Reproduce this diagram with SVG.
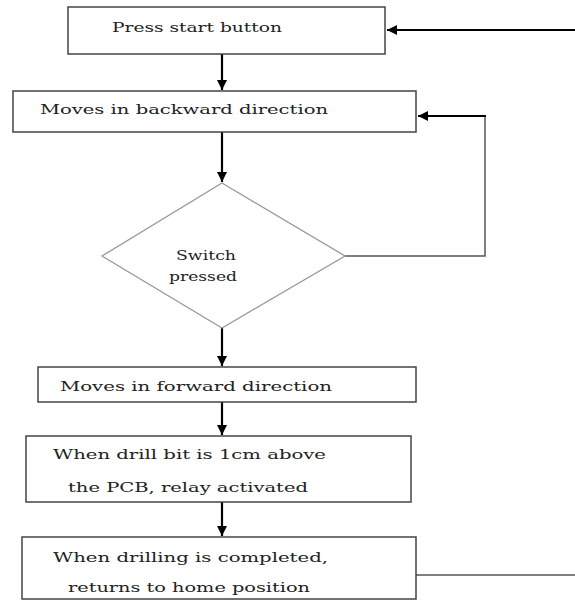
<svg xmlns="http://www.w3.org/2000/svg" width="575" height="600" viewBox="0 0 575 600">
<defs>
<style>
.box{fill:#fff;stroke:#444;stroke-width:1.5}
.dia{fill:#fff;stroke:#999;stroke-width:1.3}
.t{font-family:"DejaVu Serif","Liberation Serif",serif;font-size:13px;fill:#222}
.c{fill:none;stroke:#000;stroke-width:2.2}
.g{fill:none;stroke:#555;stroke-width:1.5}
</style>
<marker id="ah" viewBox="0 0 10 10" refX="10" refY="5" markerWidth="10" markerHeight="10" markerUnits="userSpaceOnUse" orient="auto">
<path d="M0,0 L10,5 L0,10 z" fill="#000"/>
</marker>
</defs>
<rect width="575" height="600" fill="#fff"/>
<g id="connectors">
<line class="c" x1="575" y1="30" x2="387" y2="30" stroke-width="3" marker-end="url(#ah)"/>
<line class="c" x1="222" y1="54" x2="222" y2="90" marker-end="url(#ah)"/>
<line class="c" x1="222" y1="132" x2="222" y2="182" stroke-width="3" marker-end="url(#ah)"/>
<polyline class="g" points="345,256 485,256 485,116 430,116"/>
<line class="c" x1="486" y1="116" x2="418" y2="116" stroke-width="2.5" marker-end="url(#ah)"/>
<line class="c" x1="222" y1="328" x2="222" y2="366" marker-end="url(#ah)"/>
<line class="c" x1="222" y1="402" x2="222" y2="435" marker-end="url(#ah)"/>
<line class="c" x1="222" y1="502" x2="222" y2="536" marker-end="url(#ah)"/>
<line class="g" x1="416" y1="575" x2="575" y2="575"/>
</g>
<g id="n1">
<rect class="box" x="68" y="7" width="317" height="47"/>
<text class="t" x="112" y="32" textLength="170" lengthAdjust="spacingAndGlyphs">Press start button</text>
</g>
<g id="n2">
<rect class="box" x="13" y="91" width="403" height="41"/>
<text class="t" x="40" y="114" textLength="288" lengthAdjust="spacingAndGlyphs">Moves in backward direction</text>
</g>
<g id="n3">
<polygon class="dia" points="222,183 345,256 222,328 102,256"/>
<text class="t" x="176" y="260" textLength="60" lengthAdjust="spacingAndGlyphs">Switch</text>
<text class="t" x="169" y="281" textLength="68" lengthAdjust="spacingAndGlyphs">pressed</text>
</g>
<g id="n4">
<rect class="box" x="38" y="367" width="378" height="35"/>
<text class="t" x="60" y="391" textLength="272" lengthAdjust="spacingAndGlyphs">Moves in forward direction</text>
</g>
<g id="n5">
<rect class="box" x="26" y="436" width="385" height="66"/>
<text class="t" x="53" y="459" textLength="273" lengthAdjust="spacingAndGlyphs">When drill bit is 1cm above</text>
<text class="t" x="68" y="492" textLength="240" lengthAdjust="spacingAndGlyphs">the PCB, relay activated</text>
</g>
<g id="n6">
<rect class="box" x="22" y="537" width="394" height="62"/>
<text class="t" x="53" y="562" textLength="275" lengthAdjust="spacingAndGlyphs">When drilling is completed,</text>
<text class="t" x="68" y="592" textLength="242" lengthAdjust="spacingAndGlyphs">returns to home position</text>
</g>
</svg>
